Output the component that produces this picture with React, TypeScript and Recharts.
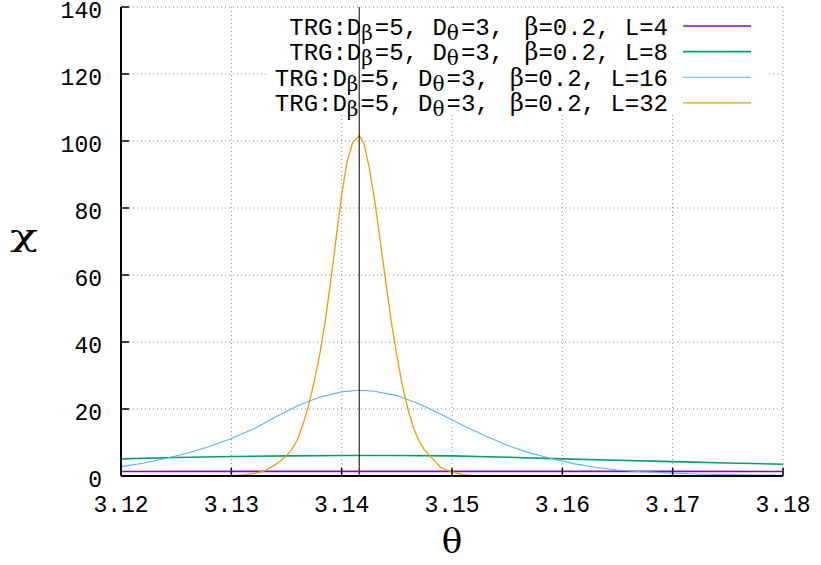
import React from "react";
import { LineChart, Line, XAxis, YAxis, CartesianGrid, ReferenceLine, Customized } from "recharts";

// ---- data ----
const xTicks = [3.12, 3.13, 3.14, 3.15, 3.16, 3.17, 3.18];
const yTicks = [0, 20, 40, 60, 80, 100, 120, 140];
const piLineX = 3.14159;

const thetaL4 = [3.12, 3.13, 3.14, 3.15, 3.16, 3.17, 3.18];
const chiL4 = [1.35, 1.37, 1.38, 1.38, 1.38, 1.37, 1.35];

const thetaL8 = [3.12, 3.125, 3.13, 3.135, 3.14, 3.145, 3.15, 3.155, 3.16, 3.165, 3.17, 3.175, 3.18];
const chiL8 = [5.1, 5.5, 5.8, 6.0, 6.1, 6.1, 6.0, 5.6, 5.1, 4.7, 4.3, 3.9, 3.5];

const thetaL16 = [3.12, 3.122, 3.124, 3.126, 3.128, 3.13, 3.132, 3.134, 3.136, 3.138, 3.14, 3.1416, 3.143, 3.145, 3.147, 3.149, 3.151, 3.153, 3.155, 3.157, 3.159, 3.161, 3.163, 3.165, 3.167, 3.169, 3.172, 3.175, 3.178, 3.18];
const chiL16 = [2.8, 3.8, 5.2, 6.8, 8.8, 11.2, 14.0, 17.6, 21.0, 23.5, 25.1, 25.6, 25.3, 24.0, 21.6, 18.4, 15.1, 12.0, 9.2, 6.9, 5.2, 3.7, 2.6, 1.8, 1.3, 1.0, 0.6, 0.4, 0.25, 0.2];

const thetaL32 = [3.12, 3.128, 3.13, 3.131, 3.132, 3.133, 3.134, 3.1345, 3.135, 3.1355, 3.136, 3.1365, 3.137, 3.1375, 3.138, 3.1385, 3.139, 3.1395, 3.14, 3.1405, 3.141, 3.1416, 3.142, 3.1425, 3.143, 3.1435, 3.144, 3.1445, 3.145, 3.1455, 3.146, 3.1465, 3.147, 3.1475, 3.148, 3.149, 3.15, 3.151, 3.152, 3.155, 3.18];
const chiL32 = [0, 0, 0.1, 0.3, 0.7, 1.5, 3.4, 4.6, 6.0, 8.0, 10.8, 15.5, 21, 28, 36, 46, 58, 71, 84, 94, 99.5, 101.6, 99.5, 92, 82, 70, 58, 46, 36, 27, 20, 14.5, 10.5, 7.8, 6.0, 2.5, 1.2, 0.4, 0.1, 0, 0];

const legendL = ["4", "8", "16", "32"];
const colors = ["#9400d3", "#009e73", "#56b4e9", "#e69f00"];
const widths = [1.6, 1.6, 1.1, 1.3];

const toPts = (xs: number[], ys: number[]) => xs.map((x, i) => ({ x, y: ys[i] }));
const series = [
  toPts(thetaL4, chiL4),
  toPts(thetaL8, chiL8),
  toPts(thetaL16, chiL16),
  toPts(thetaL32, chiL32),
];

const MONO = "'Liberation Mono', 'DejaVu Sans Mono', monospace";
const SERIF = "'DejaVu Serif', 'Liberation Serif', serif";

const XTick = (props: any) => {
  const { x, y, payload } = props;
  return (
    <text x={x} y={y + 44} textAnchor="middle" fontFamily={MONO} fontSize={23} fill="#000">
      {Number(payload.value).toFixed(2)}
    </text>
  );
};

const YTick = (props: any) => {
  const { x, y, payload } = props;
  return (
    <text x={x - 27} y={y + 10.5} textAnchor="end" fontFamily={MONO} fontSize={23} fill="#000">
      {payload.value}
    </text>
  );
};

const LegendAndLabels = () => {
  const rowY0 = 26;
  const rowStep = 25.6;
  return (
    <g>
      <rect x={268} y={9} width={498} height={105} fill="#fff" />
      {legendL.map((L, i) => {
        const cy = rowY0 + i * rowStep;
        return (
          <g key={L}>
            <text
              x={668}
              y={cy + 8.5}
              textAnchor="end"
              fontFamily={MONO}
              fontSize={24}
              fill="#000"
              style={{ whiteSpace: "pre" }}
            >
              {"TRG:D"}
              <tspan fontFamily={SERIF} fontSize={20} dy={5}>β</tspan>
              <tspan dy={-5} dx={2}>{"=5, D"}</tspan>
              <tspan fontFamily={SERIF} fontSize={20} dy={5}>θ</tspan>
              <tspan dy={-5} dx={2}>{"=3, "}</tspan>
              <tspan fontFamily={SERIF} dx={6}>β</tspan>
              <tspan>{"=0.2, L=" + L}</tspan>
            </text>
            <line x1={683} x2={751} y1={cy} y2={cy} stroke={colors[i]} strokeWidth={widths[i]} />
          </g>
        );
      })}
      <text
        transform="translate(24,246) scale(1.6,1)"
        x={0}
        y={0}
        textAnchor="middle"
        fontFamily={SERIF}
        fontSize={29}
        fill="#000"
      >
        χ
      </text>
      <text x={452} y={553} textAnchor="middle" fontFamily={SERIF} fontSize={34} fill="#000">θ</text>
    </g>
  );
};

export default function App() {
  return (
    <div style={{ position: "absolute", left: 0, top: 0, width: 821, height: 565, background: "#fff" }}>
      <LineChart width={821} height={565} margin={{ top: 7, right: 38, bottom: 39, left: 8 }}>
        <CartesianGrid stroke="#888" strokeDasharray="1 3" strokeWidth={1} />
        <XAxis
          dataKey="x"
          type="number"
          domain={[3.12, 3.18]}
          ticks={xTicks}
          allowDataOverflow
          height={50}
          axisLine={{ stroke: "#000", strokeWidth: 2 }}
          tickLine={{ stroke: "#000", strokeWidth: 1.5 }}
          tickSize={-8}
          tickMargin={0}
          tick={<XTick />}
          interval={0}
        />
        <XAxis
          xAxisId="top"
          orientation="top"
          dataKey="x"
          type="number"
          domain={[3.12, 3.18]}
          ticks={xTicks}
          allowDataOverflow
          height={0}
          axisLine={{ stroke: "#000", strokeWidth: 2 }}
          tickLine={{ stroke: "#000", strokeWidth: 1.5 }}
          tickSize={-8}
          tick={false}
          interval={0}
        />
        <YAxis
          type="number"
          domain={[0, 140]}
          ticks={yTicks}
          allowDataOverflow
          width={113}
          axisLine={{ stroke: "#000", strokeWidth: 2 }}
          tickLine={{ stroke: "#000", strokeWidth: 1.5 }}
          tickSize={-8}
          tickMargin={0}
          tick={<YTick />}
          interval={0}
        />
        <YAxis
          yAxisId="right"
          orientation="right"
          type="number"
          domain={[0, 140]}
          ticks={yTicks}
          allowDataOverflow
          width={0}
          axisLine={{ stroke: "#000", strokeWidth: 2 }}
          tickLine={{ stroke: "#000", strokeWidth: 1.5 }}
          tickSize={-8}
          tick={false}
          interval={0}
        />
        {series.map((d, i) => (
          <Line
            key={i}
            data={d}
            dataKey="y"
            type="linear"
            stroke={colors[i]}
            strokeWidth={widths[i]}
            dot={false}
            activeDot={false}
            isAnimationActive={false}
          />
        ))}
        <Customized component={<LegendAndLabels />} />
        <ReferenceLine x={piLineX} stroke="#000" strokeWidth={1} />
      </LineChart>
    </div>
  );
}
